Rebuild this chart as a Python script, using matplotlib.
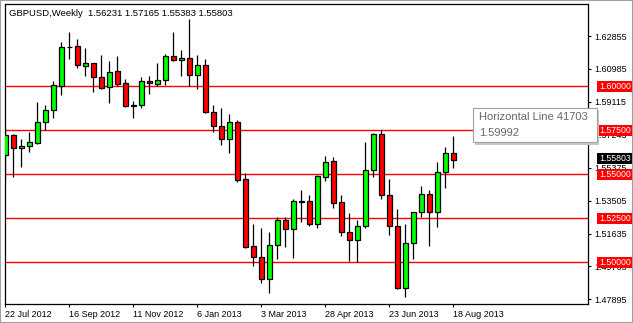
import matplotlib
matplotlib.use("Agg")
import matplotlib.pyplot as plt
import matplotlib.transforms as mtransforms
from matplotlib.patches import Rectangle
import pandas as pd

# weekly GBPUSD candles, first week 22 Jul 2012
first_week = "2012-07-22"
opens = [1.56099, 1.57216, 1.56477, 1.56591, 1.56799, 1.57955, 1.58636, 1.60038, 1.62235, 1.62273,
         1.61174, 1.61307, 1.60511, 1.59943, 1.60852, 1.60170, 1.58902, 1.58958, 1.60284, 1.60152,
         1.60341, 1.61705, 1.61477, 1.61591, 1.60625, 1.61193, 1.58523, 1.57727, 1.56989, 1.57955,
         1.54716, 1.50928, 1.50284, 1.49034, 1.50966, 1.52387, 1.51913, 1.53447, 1.53466, 1.52197,
         1.54830, 1.55758, 1.53409, 1.51705, 1.51250, 1.52046, 1.55227, 1.57292, 1.53807, 1.52046,
         1.48523, 1.51080, 1.52841, 1.53864, 1.52841, 1.55114, 1.56231]
highs = [1.57614, 1.57292, 1.57008, 1.57405, 1.59091, 1.58939, 1.60303, 1.62519, 1.63087, 1.62689,
         1.62178, 1.61326, 1.61780, 1.61439, 1.61742, 1.60417, 1.59167, 1.60530, 1.60587, 1.61326,
         1.61856, 1.63087, 1.62064, 1.63826, 1.61761, 1.61553, 1.58939, 1.58769, 1.58428, 1.58068,
         1.55057, 1.52178, 1.51970, 1.51724, 1.52576, 1.52576, 1.53599, 1.54110, 1.53807, 1.54962,
         1.56042, 1.55966, 1.53826, 1.52803, 1.52405, 1.56837, 1.57367, 1.57519, 1.54735, 1.53030,
         1.52178, 1.52841, 1.54337, 1.54110, 1.55701, 1.56553, 1.57165]
lows = [1.54546, 1.54868, 1.55436, 1.56288, 1.56742, 1.57500, 1.58220, 1.59508, 1.61572, 1.61061,
        1.60606, 1.59697, 1.59848, 1.59072, 1.60038, 1.58845, 1.58220, 1.58788, 1.59583, 1.60000,
        1.60076, 1.61458, 1.60606, 1.60019, 1.59867, 1.58504, 1.57424, 1.56686, 1.56231, 1.54583,
        1.50834, 1.49811, 1.48807, 1.48277, 1.50209, 1.50890, 1.50265, 1.52311, 1.52083, 1.51932,
        1.54640, 1.53106, 1.51515, 1.50095, 1.50038, 1.51932, 1.54868, 1.53618, 1.51553, 1.48504,
        1.48050, 1.50209, 1.52595, 1.50947, 1.52027, 1.54205, 1.55383]
closes = [1.57235, 1.56477, 1.56591, 1.56818, 1.57955, 1.58636, 1.60057, 1.62216, 1.62254, 1.61193,
          1.61307, 1.60511, 1.59924, 1.60795, 1.60152, 1.58864, 1.58921, 1.60284, 1.60170, 1.60341,
          1.61705, 1.61477, 1.61591, 1.60625, 1.61193, 1.58523, 1.57727, 1.56989, 1.57955, 1.54697,
          1.50890, 1.50284, 1.49034, 1.50966, 1.52387, 1.51913, 1.53466, 1.53466, 1.52197, 1.54886,
          1.55682, 1.53390, 1.51705, 1.51250, 1.52046, 1.55227, 1.57292, 1.53807, 1.52046, 1.48523,
          1.51080, 1.52841, 1.53864, 1.52841, 1.55114, 1.56193, 1.55803]

hlines = [1.60000, 1.57500, 1.55000, 1.52500, 1.50000]
yticks = [1.47895, 1.49765, 1.51635, 1.53505, 1.55375, 1.57245, 1.59115, 1.60985, 1.62855]
title = "GBPUSD,Weekly  1.56231 1.57165 1.55383 1.55803"
tip_lines = ["Horizontal Line 41703", "1.59992"]

weeks = pd.date_range(first_week, periods=len(opens), freq="7D")

W, H = 633, 323
FONT = "Liberation Sans"
plt.rcParams["font.family"] = [FONT, "DejaVu Sans"]

fig = plt.figure(figsize=(W / 100, H / 100), dpi=100)
ax = fig.add_axes([4.7 / W, 1 - 303.7 / H, (588.3 - 4.7) / W, (303.7 - 4.3) / H])

x = list(range(len(opens)))
up = [c >= o for o, c in zip(opens, closes)]
cols = ["#00ff00" if u else "#ff0000" for u in up]
bottoms = [min(o, c) for o, c in zip(opens, closes)]
heights = [abs(c - o) for o, c in zip(opens, closes)]

for p in hlines:
    ax.axhline(p, color="#ff0000", lw=1.0, zorder=1)
ax.vlines(x, lows, highs, color="black", lw=0.9, zorder=2)
ax.bar(x, heights, bottom=bottoms, width=0.58, color=cols,
       edgecolor="black", linewidth=0.9, zorder=3)

ax.set_xlim(-0.075, 72.875)
ax.set_ylim(1.47648, 1.64659)

ax.yaxis.tick_right()
ax.set_yticks(yticks)
ax.set_yticklabels([f"{v:.5f}" for v in yticks], fontsize=6.5)
xt = x[::8]
ax.set_xticks(xt)
ax.set_xticklabels([f"{weeks[i].day} {weeks[i]:%b %Y}" for i in xt],
                   fontsize=6.5, ha="left")
ax.tick_params(axis="both", direction="out", length=2.5, width=0.8,
               pad=2, colors="black")
for s in ax.spines.values():
    s.set_linewidth(0.9)
    s.set_color("black")

fig.text(9 / W, 1 - 13 / H, title, fontsize=6.8, va="center", ha="left")

# price labels on the right axis
blend = mtransforms.blended_transform_factory(fig.transFigure, ax.transData)
box_h = 11 / 1760
for p in hlines:
    fig.add_artist(Rectangle((597 / W, p - box_h / 2), 35 / W, box_h,
                             transform=blend, facecolor="#ff0000",
                             edgecolor="none", zorder=5))
    fig.text(599 / W, p, f"{p:.5f}", transform=blend, color="white",
             fontsize=6.3, va="center", ha="left", zorder=6)
last = closes[-1]
fig.add_artist(Rectangle((597 / W, last + 1.5 / 1760 - box_h / 2), 35 / W, box_h,
                         transform=blend, facecolor="black",
                         edgecolor="none", zorder=5))
fig.text(599 / W, last + 1.5 / 1760, f"{last:.5f}", transform=blend,
         color="white", fontsize=6.3, va="center", ha="left", zorder=6)

# tooltip
fig.add_artist(Rectangle((475 / W, 1 - 145 / H), 124 / W, 35 / H,
                         transform=fig.transFigure, facecolor="#c8c8c8",
                         edgecolor="none", zorder=7))
fig.add_artist(Rectangle((473 / W, 1 - 142 / H), 124 / W, 34 / H,
                         transform=fig.transFigure, facecolor="white",
                         edgecolor="#a0a0a0", linewidth=0.8, zorder=8))
fig.text(479 / W, 1 - 117.5 / H, tip_lines[0], fontsize=8, color="#666666",
         va="center", ha="left", zorder=9)
fig.text(479 / W, 1 - 133 / H, tip_lines[1], fontsize=8, color="#666666",
         va="center", ha="left", zorder=9)

# window frame
fig.add_artist(Rectangle((0, 0), 1, 1, transform=fig.transFigure, fill=False,
                         edgecolor="#a0a0a0", linewidth=1.5, zorder=10))

fig.savefig("out.png", dpi=100)
